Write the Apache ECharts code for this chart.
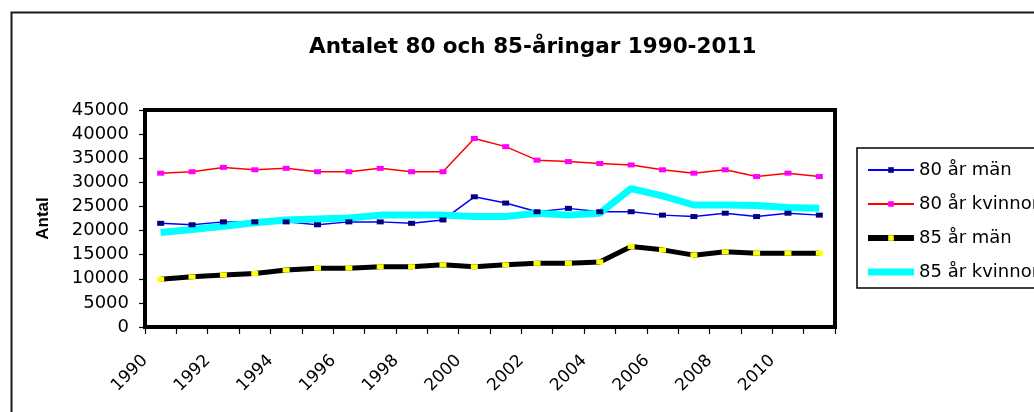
<!DOCTYPE html>
<html>
<head>
<meta charset="utf-8">
<script src="https://cdn.jsdelivr.net/npm/echarts@6/dist/echarts.min.js"></script>
<style>
html,body{margin:0;padding:0;background:#fff;}
#chart{width:1034px;height:412px;}
</style>
</head>
<body>
<div id="chart"></div>
<script>
const years = ['1990','1991','1992','1993','1994','1995','1996','1997','1998','1999','2000','2001','2002','2003','2004','2005','2006','2007','2008','2009','2010','2011'];
const m80 = [21500,21200,21800,21800,21800,21200,21800,21800,21500,22200,27000,25700,23900,24600,23900,23900,23200,22900,23600,22900,23600,23200];
const k80 = [31900,32200,33100,32600,32900,32200,32200,32900,32200,32200,39100,37400,34600,34300,33900,33600,32600,31900,32600,31200,31900,31200];
const m85 = [9900,10400,10800,11100,11800,12200,12200,12500,12500,12900,12500,12900,13200,13200,13500,16700,16000,14900,15600,15300,15300,15300];
const k85 = [19600,20200,20900,21600,22200,22400,22600,23200,23200,23200,22900,22900,23600,23200,23600,28700,27200,25300,25300,25200,24800,24600];
const seriesNames = ['80 år män','80 år kvinnor','85 år män','85 år kvinnor'];
const titleText = 'Antalet 80 och 85-åringar 1990-2011';
const yAxisName = 'Antal';
const labelYears = [1990,1992,1994,1996,1998,2000,2002,2004,2006,2008,2010];

const chart = echarts.init(document.getElementById('chart'), null, {renderer:'canvas'});
const F = 'DejaVu Sans';
chart.setOption({
  animation:false,
  backgroundColor:'#fff',
  title:{
    text:titleText, left:304, top:31,
    textStyle:{fontFamily:F, fontSize:21.5, fontWeight:'bold', color:'#000'}
  },
  graphic:[{
    type:'rect', left:9, top:10, z:-10,
    shape:{width:1100, height:500},
    style:{fill:'none', stroke:'#1a1a1a', lineWidth:2}
  }],
  legend:{
    orient:'vertical', left:857, top:148,
    itemWidth:46, itemHeight:7, itemGap:14,
    padding:[12,14,6,8],
    borderColor:'#000', borderWidth:1.5,
    textStyle:{fontFamily:F, fontSize:18, color:'#000', lineHeight:20},
    data:[
      {name:seriesNames[0], lineStyle:{width:2}},
      {name:seriesNames[1], lineStyle:{width:2}},
      {name:seriesNames[2], lineStyle:{width:6}},
      {name:seriesNames[3], icon:'rect'}
    ]
  },
  grid:{show:true, left:145, top:110, width:690, height:217,
        borderColor:'#000', borderWidth:4, backgroundColor:'#fff'},
  xAxis:[{
    type:'category', data:years, boundaryGap:true,
    axisLine:{show:false},
    axisTick:{show:true, interval:0, length:7, lineStyle:{color:'#000', width:1.2}},
    axisLabel:{show:false},
    splitLine:{show:false}
  },{
    type:'value', min:1990, max:2012, interval:2, position:'bottom',
    axisLine:{show:false}, axisTick:{show:false}, splitLine:{show:false},
    axisLabel:{
      rotate:45, margin:31, fontFamily:F, fontSize:17, color:'#000',
      formatter:function(v){ return labelYears.indexOf(v) >= 0 ? String(v) : ''; }
    }
  }],
  yAxis:{
    type:'value', min:0, max:45000, interval:5000,
    name:yAxisName, nameLocation:'middle', nameRotate:90, nameGap:93,
    nameTextStyle:{fontFamily:'Liberation Sans', fontSize:17, fontWeight:'bold', color:'#000'},
    axisLine:{show:false},
    axisTick:{show:true, length:6, lineStyle:{color:'#000', width:1.2}},
    axisLabel:{margin:16, fontFamily:F, fontSize:18, color:'#000',
      formatter:function(v){ return String(v); }},
    splitLine:{show:false}
  },
  series:[{
    name:seriesNames[0], type:'line', data:m80, xAxisIndex:0,
    symbol:'rect', symbolSize:[7,5], showAllSymbol:true,
    lineStyle:{color:'#0000FF', width:1.5},
    itemStyle:{color:'#000080'}
  },{
    name:seriesNames[1], type:'line', data:k80, xAxisIndex:0,
    symbol:'rect', symbolSize:[7,5], showAllSymbol:true,
    lineStyle:{color:'#FF0000', width:1.5},
    itemStyle:{color:'#FF00FF'}
  },{
    name:seriesNames[2], type:'line', data:m85, xAxisIndex:0,
    symbol:'rect', symbolSize:[7,5], showAllSymbol:true,
    lineStyle:{color:'#000000', width:5},
    itemStyle:{color:'#FFFF00'}
  },{
    name:seriesNames[3], type:'line', data:k85, xAxisIndex:0,
    symbol:'none',
    lineStyle:{color:'#00FFFF', width:7},
    itemStyle:{color:'#00FFFF'}
  }]
});
</script>
</body>
</html>
